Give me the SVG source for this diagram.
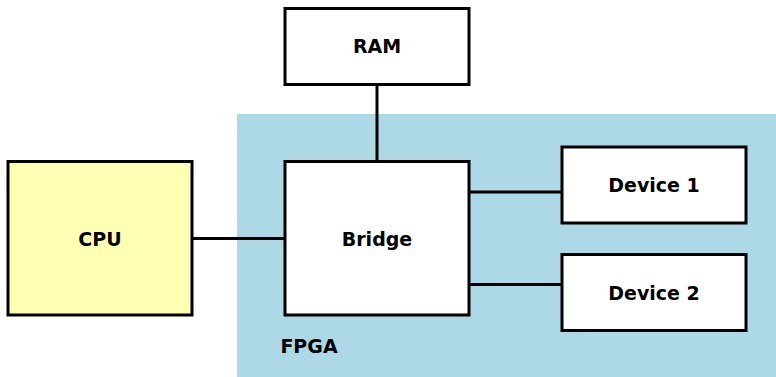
<svg xmlns="http://www.w3.org/2000/svg" width="776" height="377" viewBox="0 0 776 377">
<style>
.box{stroke:#000;stroke-width:3;fill:#fff}
.lbl{font-family:"DejaVu Sans",sans-serif;font-weight:bold;font-size:19px;text-anchor:middle;fill:#000}
.edge{stroke:#000;stroke-width:3;fill:none}
</style>
<rect x="0" y="0" width="776" height="377" fill="#fff"/>
<g id="fpga">
<rect x="237" y="114" width="539" height="263" fill="#add8e6"/>
<text x="309" y="353" class="lbl">FPGA</text>
</g>
<g id="connectors">
<line class="edge" x1="192" y1="238.5" x2="284" y2="238.5"/>
<line class="edge" x1="377" y1="84" x2="377" y2="161"/>
<line class="edge" x1="469" y1="192" x2="562" y2="192"/>
<line class="edge" x1="469" y1="284.5" x2="562" y2="284.5"/>
</g>
<g id="cpu">
<rect class="box" x="8" y="161.5" width="184" height="153.5" style="fill:#ffffb3"/>
<text x="100" y="245.5" class="lbl">CPU</text>
</g>
<g id="ram">
<rect class="box" x="285" y="8.5" width="184" height="76"/>
<text x="377" y="53" class="lbl">RAM</text>
</g>
<g id="bridge">
<rect class="box" x="285" y="161.5" width="184" height="153.5"/>
<text x="377" y="245.5" class="lbl">Bridge</text>
</g>
<g id="device1">
<rect class="box" x="562" y="147" width="184" height="76"/>
<text x="654" y="192" class="lbl">Device 1</text>
</g>
<g id="device2">
<rect class="box" x="562" y="254.5" width="184" height="76"/>
<text x="654" y="299.5" class="lbl">Device 2</text>
</g>
</svg>
